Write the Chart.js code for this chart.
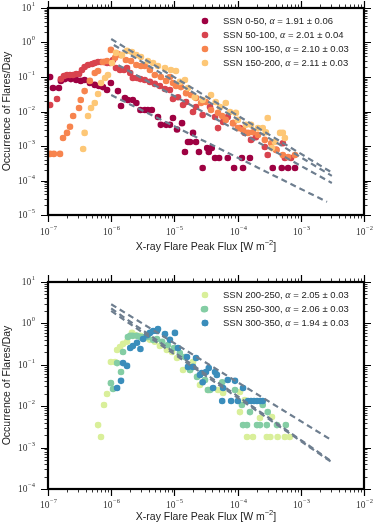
<!DOCTYPE html>
<html lang="en">
<head>
<meta charset="UTF-8">
<title>Flare occurrence vs peak flux</title>
<script src="https://cdn.jsdelivr.net/npm/chart.js"></script>
<style>
    body { margin: 0; background: #fff; }
    .wrap { position: relative; width: 374px; height: 528px; }
    canvas { position: absolute; left: 0; }
    #topChart { top: 0; }
    #bottomChart { top: 254px; }
</style>
</head>
<body>
<div class="wrap">
    <canvas id="topChart" width="374" height="254"></canvas>
    <canvas id="bottomChart" width="374" height="274"></canvas>
</div>
<script>
// --- data: [peak flux (W m^-2), occurrence per day] ---
const ssn0_50 = [[1.08e-7,0.1],[1.2e-7,0.048],[1.49e-7,0.048],[1.6e-7,0.077],[1.86e-7,0.087],[2.3e-7,0.087],[2.8e-7,0.082],[3.3e-7,0.077],[3.8e-7,0.082],[4.6e-7,0.067],[5.5e-7,0.059],[6.4e-7,0.055],[7.4e-7,0.051],[8.6e-7,0.042],[9.9e-7,0.067],[1.28e-6,0.039],[1.43e-6,0.0144],[1.65e-6,0.0246],[1.84e-6,0.0215],[2.2e-6,0.0215],[2.5e-6,0.0176],[2.9e-6,0.011],[3.4e-6,0.011],[3.8e-6,0.011],[4.4e-6,0.011],[5.5e-6,0.0069],[6.1e-6,0.0041],[7.4e-6,0.0041],[8.5e-6,0.0041],[9.5e-6,0.0065],[1.1e-5,0.003],[1.32e-5,0.0046],[1.47e-5,6.7e-4],[1.64e-5,0.0013],[1.77e-5,0.0013],[1.97e-5,0.0024],[2.2e-5,0.0013],[2.45e-5,6.7e-4],[2.8e-5,2.3e-4],[3.3e-5,8.7e-4],[3.5e-5,6.7e-4],[3.9e-5,8.7e-4],[4.4e-5,4.5e-4],[5.1e-5,4.5e-4],[7.0e-5,4.5e-4],[8.8e-5,2.3e-4],[1.17e-4,4.5e-4],[1.22e-4,2.3e-4],[1.57e-4,4.5e-4],[3.6e-4,2.3e-4],[5.0e-4,2.3e-4],[6.3e-4,2.3e-4],[8.1e-4,2.3e-4]];
const ssn50_100 = [[1.08e-7,0.0154],[1.39e-7,0.023],[1.6e-7,0.087],[1.79e-7,0.107],[2.0e-7,0.114],[2.23e-7,0.114],[2.5e-7,0.114],[2.8e-7,0.122],[3.1e-7,0.122],[3.45e-7,0.16],[3.8e-7,0.195],[4.3e-7,0.223],[5.0e-7,0.238],[5.5e-7,0.255],[6.2e-7,0.272],[6.9e-7,0.272],[7.7e-7,0.272],[8.6e-7,0.255],[9.6e-7,0.255],[1.07e-6,0.311],[1.19e-6,0.182],[1.38e-6,0.16],[1.6e-6,0.16],[1.78e-6,0.182],[2.0e-6,0.131],[2.2e-6,0.094],[2.56e-6,0.094],[2.9e-6,0.087],[3.4e-6,0.082],[4.1e-6,0.072],[4.9e-6,0.063],[5.9e-6,0.055],[7.1e-6,0.045],[8.5e-6,0.042],[9.5e-6,0.023],[1.14e-5,0.026],[1.37e-5,0.0154],[1.53e-5,0.0188],[1.97e-5,0.0097],[2.2e-5,0.0135],[2.8e-5,0.0079],[3.66e-5,0.0135],[4.4e-5,0.0069],[4.9e-5,0.0033],[5.9e-5,0.005],[7.0e-5,0.0069],[8.5e-5,0.0046],[1.09e-4,0.0033],[1.3e-4,0.0024],[1.63e-4,0.0015],[1.95e-4,0.0018],[2.7e-4,9.4e-4],[3.0e-4,5.5e-4],[4.1e-4,7.7e-4],[5.2e-4,0.0012],[5.6e-4,4.5e-4],[7.0e-4,4.5e-4]];
const ssn100_150 = [[1.08e-7,5.9e-4],[1.24e-7,5.9e-4],[1.55e-7,5.9e-4],[1.73e-7,0.0017],[2.0e-7,0.0024],[2.23e-7,0.0036],[2.5e-7,0.0074],[3.1e-7,0.0126],[3.3e-7,0.0215],[3.8e-7,0.039],[4.6e-7,0.077],[5.5e-7,0.131],[6.2e-7,0.149],[7.4e-7,0.272],[8.6e-7,0.291],[9.9e-7,0.61],[1.15e-6,0.36],[1.28e-6,0.46],[1.43e-6,0.43],[1.71e-6,0.31],[2.06e-6,0.291],[2.5e-6,0.223],[2.96e-6,0.208],[3.4e-6,0.208],[4.1e-6,0.16],[4.9e-6,0.114],[6.1e-6,0.1],[7.4e-6,0.077],[8.5e-6,0.1],[9.5e-6,0.067],[1.06e-5,0.055],[1.27e-5,0.051],[1.53e-5,0.034],[1.83e-5,0.03],[2.2e-5,0.0246],[2.64e-5,0.0176],[3.16e-5,0.0188],[3.8e-5,0.011],[4.9e-5,0.0091],[5.7e-5,0.0074],[6.5e-5,0.0057],[8.5e-5,0.0046],[1.01e-4,0.0033],[1.22e-4,0.0029],[1.46e-4,0.0024],[1.75e-4,0.0025],[2.1e-4,0.0021],[2.7e-4,0.0015],[3.4e-4,0.0012],[4.1e-4,7.7e-4],[5.2e-4,5.5e-4],[6.3e-4,4.8e-4],[8.1e-4,5.5e-4]];
const ssn150_200 = [[3.6e-7,8.2e-4],[3.8e-7,0.0024],[4.3e-7,0.0074],[4.8e-7,0.0126],[5.5e-7,0.0176],[6.2e-7,0.032],[6.9e-7,0.067],[8.0e-7,0.094],[8.9e-7,0.114],[1.03e-6,0.255],[1.19e-6,0.5],[1.48e-6,0.43],[1.78e-6,0.57],[2.13e-6,0.53],[2.5e-6,0.43],[2.96e-6,0.38],[3.8e-6,0.291],[4.6e-6,0.255],[5.5e-6,0.208],[7.1e-6,0.182],[8.8e-6,0.16],[1.06e-5,0.149],[1.22e-5,0.072],[1.47e-5,0.082],[1.64e-5,0.048],[2.1e-5,0.026],[2.8e-5,0.0215],[3.8e-5,0.03],[4.5e-5,0.0188],[5.3e-5,0.0135],[6.5e-5,0.0176],[7.6e-5,0.0097],[9.4e-5,0.0091],[1.01e-4,0.0057],[1.36e-4,0.0041],[1.63e-4,0.0041],[2.1e-4,0.0033],[2.5e-4,0.0033],[3.0e-4,0.0065],[2.8e-4,0.0025],[3.5e-4,8.7e-4],[3.9e-4,0.0013],[4.7e-4,0.0024],[5.2e-4,0.0024],[5.6e-4,0.0017]];

const ssn200_250 = [[6.2e-7,0.0035],[6.9e-7,0.0018],[7.7e-7,0.0107],[8.6e-7,0.0197],[9.9e-7,0.117],[1.15e-6,0.117],[1.24e-6,0.228],[1.38e-6,0.269],[1.54e-6,0.32],[1.78e-6,0.36],[2.13e-6,0.59],[2.38e-6,0.52],[2.9e-6,0.5],[3.4e-6,0.44],[4.1e-6,0.4],[4.9e-6,0.36],[5.9e-6,0.284],[7.6e-6,0.228],[9.2e-6,0.204],[1.1e-5,0.146],[1.37e-5,0.075],[1.77e-5,0.075],[1.97e-5,0.117],[2.54e-5,0.0325],[3.4e-5,0.0246],[4.9e-5,0.0246],[5.9e-5,0.0208],[1.09e-4,0.022],[1.3e-4,0.0141],[1.09e-4,0.0072],[2.26e-4,0.0052],[3.5e-4,0.0055],[1.41e-4,0.0018],[1.75e-4,0.0018],[2.9e-4,0.0018],[3.3e-4,0.0018],[4.3e-4,0.0018],[5.6e-4,0.0018],[6.7e-4,0.0018]];
const ssn250_300 = [[9.9e-7,0.036],[1.07e-6,0.026],[1.24e-6,0.11],[1.43e-6,0.067],[1.54e-6,0.204],[1.84e-6,0.47],[2.0e-6,0.5],[2.2e-6,0.5],[2.56e-6,0.5],[2.9e-6,0.47],[3.2e-6,0.47],[3.8e-6,0.47],[4.6e-6,0.4],[5.3e-6,0.42],[6.4e-6,0.36],[7.9e-6,0.3],[9.9e-6,0.255],[1.22e-5,0.193],[1.47e-5,0.154],[1.77e-5,0.075],[2.28e-5,0.051],[2.94e-5,2.2],[3.05e-5,0.043],[3.4e-5,0.0246],[3.66e-5,0.0246],[5.7e-5,0.038],[9.1e-5,0.0246],[1.17e-4,0.0107],[1.57e-4,0.0072],[2.5e-4,0.0107],[3.0e-4,0.0072],[1.22e-4,0.0035],[1.41e-4,0.0035],[2.03e-4,0.0035],[2.26e-4,0.0035],[2.9e-4,0.0035],[4.2e-4,0.0035],[5.8e-4,0.0035]];
const ssn300_350 = [[1.24e-6,0.0275],[1.43e-6,0.041],[1.54e-6,0.11],[1.78e-6,0.094],[2.0e-6,0.255],[2.2e-6,0.284],[2.56e-6,0.34],[2.9e-6,0.241],[3.2e-6,0.42],[3.7e-6,0.52],[4.1e-6,0.59],[4.6e-6,0.655],[5.3e-6,0.655],[5.5e-6,0.73],[7.1e-6,0.55],[8.5e-6,0.4],[1.02e-5,0.59],[1.14e-5,0.255],[1.58e-5,0.154],[1.64e-5,0.089],[1.97e-5,0.089],[2.2e-5,0.146],[2.54e-5,0.057],[2.7e-5,0.063],[2.8e-5,0.038],[3.05e-5,1.02],[3.16e-5,0.067],[3.5e-5,0.084],[4.1e-5,0.0275],[4.4e-5,0.067],[4.7e-5,0.057],[5.9e-5,0.0275],[7.0e-5,0.043],[9.1e-5,0.041],[1.22e-4,0.0275],[5.7e-5,0.0134],[7.9e-5,0.0134],[1.01e-4,0.0134],[1.46e-4,0.0134],[1.63e-4,0.0134],[1.82e-4,0.0134],[2.03e-4,0.0134],[2.26e-4,0.0134],[2.5e-4,0.0134]];

// power-law fits, start and end of each dashed line
const fit0_50 = [[1.0e-6,0.030],[2.6e-3,2.4e-5]];
const fit50_100 = [[1.3e-6,0.22],[3.1e-3,8.5e-5]];
const fit100_150 = [[1.1e-6,0.85],[3.1e-3,1.36e-4]];
const fit150_200 = [[1.0e-6,1.26],[3.1e-3,1.7e-4]];
const fit200_250 = [[1.0e-6,2.0],[3.1e-3,4.4e-4]];
const fit250_300 = [[1.0e-6,2.3],[3.1e-3,4.6e-4]];
const fit300_350 = [[1.0e-6,2.9],[3.1e-3,1.5e-3]];

const namesTop = ['SSN 0-50', 'SSN 50-100', 'SSN 100-150', 'SSN 150-200'];
const alphasTop = ['1.91 ± 0.06', '2.01 ± 0.04', '2.10 ± 0.03', '2.11 ± 0.03'];
const namesBottom = ['SSN 200-250', 'SSN 250-300', 'SSN 300-350'];
const alphasBottom = ['2.05 ± 0.03', '2.06 ± 0.03', '1.94 ± 0.03'];

const colorsTop = ['#9e0142', '#d8434e', '#f7844e', '#fdc776'];
const colorsBottom = ['#d9ef9a', '#84cda4', '#3a8dbb'];
const fitColor = '#6e7e8f';

const SANS = '"Liberation Sans", Arial, sans-serif';
const SERIF = '"Liberation Serif", "DejaVu Serif", serif';

const toXY = arr => arr.map(p => ({ x: p[0], y: p[1] }));

function scatterSet(points, color, name, alpha, order) {
    return {
        type: 'scatter', data: toXY(points), backgroundColor: color, borderWidth: 0,
        pointRadius: 3.3, pointHoverRadius: 3.3, order: order,
        legendName: name, alphaText: alpha
    };
}
function fitSet(points) {
    return {
        type: 'line', data: toXY(points), borderColor: fitColor, borderWidth: 2.2,
        borderDash: [6, 4], pointRadius: 0, fill: false, showLine: true, order: 0
    };
}

function logTicks(min, max) {
    const out = [];
    for (let e = Math.floor(Math.log10(min)); e <= Math.ceil(Math.log10(max)); e++) {
        for (let k = 1; k <= 9; k++) {
            const v = k * Math.pow(10, e);
            if (v >= min * 0.999 && v <= max * 1.001) out.push({ v: v, e: e, major: k === 1 });
        }
    }
    return out;
}

function drawPow(ctx, x, y, exp, align) {
    const base = '10', sup = (exp < 0 ? '\u2212' : '') + Math.abs(exp);
    ctx.font = '9.5px ' + SERIF;
    const wb = ctx.measureText(base).width;
    ctx.font = '6.5px ' + SERIF;
    const ws = ctx.measureText(sup).width;
    const w = wb + ws + 0.5;
    const x0 = align === 'center' ? x - w / 2 : x - w;
    ctx.textAlign = 'left';
    ctx.textBaseline = 'middle';
    ctx.fillStyle = '#333';
    ctx.font = '9.5px ' + SERIF;
    ctx.fillText(base, x0, y);
    ctx.font = '6.5px ' + SERIF;
    ctx.fillText(sup, x0 + wb + 0.5, y - 4);
}

// frame, ticks on all four sides, tick labels, axis titles, legend
const decorations = {
    id: 'decorations',
    afterDraw(chart, args, opts) {
        const ctx = chart.ctx;
        const { left, right, top, bottom } = chart.chartArea;
        const xs = chart.scales.x, ys = chart.scales.y;
        ctx.save();
        ctx.strokeStyle = '#000';
        for (const t of logTicks(xs.min, xs.max)) {
            const px = Math.round(xs.getPixelForValue(t.v)) + 0.5;
            const len = t.major ? 7 : 3.5;
            ctx.lineWidth = t.major ? 1.2 : 0.8;
            ctx.beginPath();
            ctx.moveTo(px, bottom); ctx.lineTo(px, bottom + len);
            ctx.moveTo(px, top); ctx.lineTo(px, top - len);
            ctx.stroke();
            if (t.major) drawPow(ctx, px, bottom + opts.xLabelGap, t.e, 'center');
        }
        for (const t of logTicks(ys.min, ys.max)) {
            const py = Math.round(ys.getPixelForValue(t.v)) + 0.5;
            const len = t.major ? 7 : 3.5;
            ctx.lineWidth = t.major ? 1.2 : 0.8;
            ctx.beginPath();
            ctx.moveTo(left, py); ctx.lineTo(left - len, py);
            ctx.moveTo(right, py); ctx.lineTo(right + len, py);
            ctx.stroke();
            if (t.major) drawPow(ctx, left - 13, py, t.e, 'right');
        }
        ctx.lineWidth = 2.2;
        ctx.strokeRect(left, top, right - left, bottom - top);

        // axis titles
        ctx.fillStyle = '#222';
        ctx.textBaseline = 'middle';
        ctx.font = '10.5px ' + SANS;
        const t1 = 'X-ray Flare Peak Flux [W m', t2 = '\u22122', t3 = ']';
        const w1 = ctx.measureText(t1).width, w3 = ctx.measureText(t3).width;
        ctx.font = '7.5px ' + SANS;
        const w2 = ctx.measureText(t2).width;
        let x0 = (left + right) / 2 - (w1 + w2 + w3) / 2;
        const ty = bottom + opts.xTitleGap;
        ctx.textAlign = 'left';
        ctx.font = '10.5px ' + SANS;
        ctx.fillText(t1, x0, ty);
        ctx.font = '7.5px ' + SANS;
        ctx.fillText(t2, x0 + w1, ty - 4);
        ctx.font = '10.5px ' + SANS;
        ctx.fillText(t3, x0 + w1 + w2, ty);

        ctx.save();
        ctx.translate(7, (top + bottom) / 2);
        ctx.rotate(-Math.PI / 2);
        ctx.textAlign = 'center';
        ctx.fillText('Occurrence of Flares/Day', 0, 0);
        ctx.restore();

        // legend
        let row = 0;
        chart.data.datasets.forEach(ds => {
            if (!ds.legendName) return;
            const y = top + 13 + 14 * row;
            ctx.fillStyle = ds.backgroundColor;
            ctx.beginPath();
            ctx.arc(205, y, 3.3, 0, Math.PI * 2);
            ctx.fill();
            ctx.fillStyle = '#222';
            ctx.textAlign = 'left';
            let x = 223;
            ctx.font = '9.5px ' + SANS;
            const a = ds.legendName + ', ';
            ctx.fillText(a, x, y);
            x += ctx.measureText(a).width;
            ctx.font = 'italic 10px ' + SERIF;
            ctx.fillText('\u03b1', x, y);
            x += ctx.measureText('\u03b1').width;
            ctx.font = '9.5px ' + SANS;
            ctx.fillText(' = ' + ds.alphaText, x, y);
            row++;
        });
        ctx.restore();
    }
};

function makeChart(id, datasets, yMin, yMax, padTop, xLabelGap, xTitleGap) {
    return new Chart(document.getElementById(id), {
        type: 'scatter',
        data: { datasets: datasets },
        plugins: [decorations],
        options: {
            responsive: false,
            animation: false,
            events: [],
            layout: { padding: { top: padTop, right: 10, left: 0, bottom: 0 } },
            plugins: {
                legend: { display: false },
                tooltip: { enabled: false },
                decorations: { xLabelGap: xLabelGap, xTitleGap: xTitleGap }
            },
            scales: {
                x: {
                    type: 'logarithmic', min: 1e-7, max: 1e-2,
                    ticks: { display: false }, grid: { display: false }, border: { display: false },
                    afterFit: s => { s.height = 39; }
                },
                y: {
                    type: 'logarithmic', min: yMin, max: yMax,
                    ticks: { display: false }, grid: { display: false }, border: { display: false },
                    afterFit: s => { s.width = 48; }
                }
            }
        }
    });
}

const topSets = [
    fitSet(fit0_50), fitSet(fit50_100), fitSet(fit100_150), fitSet(fit150_200),
    scatterSet(ssn0_50, colorsTop[0], namesTop[0], alphasTop[0], 4),
    scatterSet(ssn50_100, colorsTop[1], namesTop[1], alphasTop[1], 3),
    scatterSet(ssn100_150, colorsTop[2], namesTop[2], alphasTop[2], 2),
    scatterSet(ssn150_200, colorsTop[3], namesTop[3], alphasTop[3], 1)
];
const bottomSets = [
    fitSet(fit200_250), fitSet(fit250_300), fitSet(fit300_350),
    scatterSet(ssn200_250, colorsBottom[0], namesBottom[0], alphasBottom[0], 3),
    scatterSet(ssn250_300, colorsBottom[1], namesBottom[1], alphasBottom[1], 2),
    scatterSet(ssn300_350, colorsBottom[2], namesBottom[2], alphasBottom[2], 1)
];

makeChart('topChart', topSets, 1e-5, 10, 8, 17, 32);
makeChart('bottomChart', bottomSets, 1e-4, 10, 28, 16, 28);
</script>
</body>
</html>
